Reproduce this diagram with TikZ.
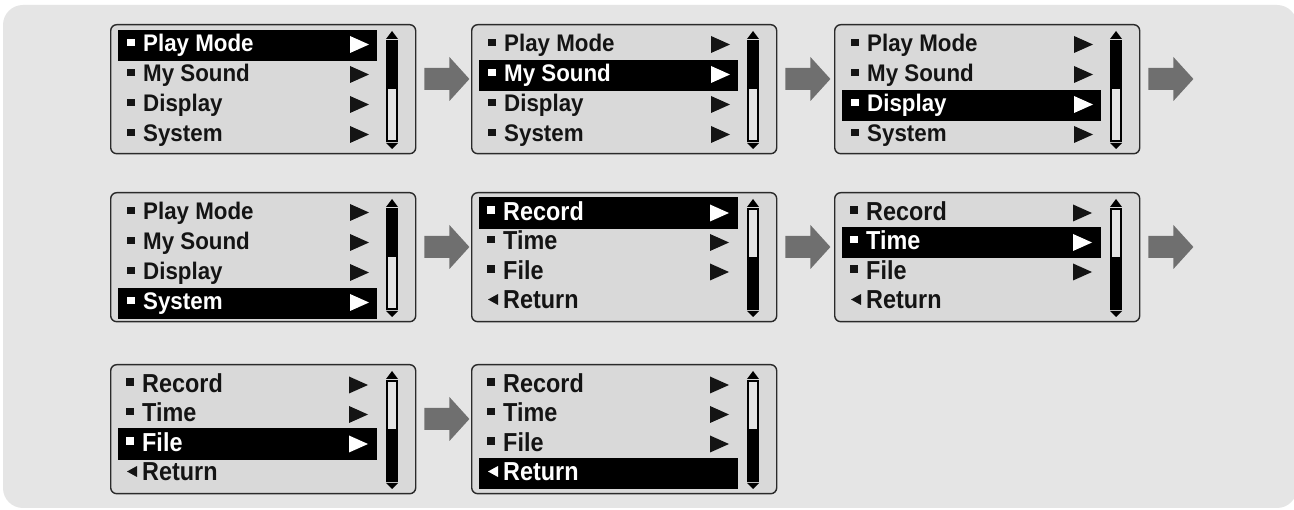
\documentclass[tikz,border=0pt]{standalone}
\usepackage{fontspec}
\setmainfont{Liberation Sans}
\usepackage{graphicx}
\usetikzlibrary{calc}
\definecolor{bgcol}{HTML}{E5E5E5}
\definecolor{scrfill}{HTML}{D9D9D9}
\definecolor{scrollbg}{HTML}{E4E4E4}
\definecolor{arrcol}{HTML}{6F6F6F}
\definecolor{framecol}{HTML}{2A2A2A}
\definecolor{itemcol}{HTML}{141414}
\tikzset{
  screen/.style={draw=framecol, line width=1.4pt, fill=scrfill, rounded corners=6pt,
    minimum width=305pt, minimum height=129pt, inner sep=0pt, anchor=north west},
  mtext/.style={anchor=base west, inner sep=0pt, font=\fontsize{24}{24}\selectfont\bfseries},
  stext/.style={anchor=base west, inner sep=0pt, font=\fontsize{26}{26}\selectfont\bfseries},
  blockarrow/.style={fill=arrcol},
  hlbar/.style={fill=black},
  sbframe/.style={draw=black, line width=1.2pt},
}
\newcommand\myscrollbar[3]{%
  \fill (#1+276,#2+15) -- (#1+282,#2+7) -- (#1+288,#2+15) -- cycle;
  \fill[scrollbg] (#1+277,#2+17) rectangle (#1+287,#2+117);
  \ifnum#3=0 \fill (#1+277,#2+17) rectangle (#1+287,#2+65);
  \else \fill (#1+277,#2+65) rectangle (#1+287,#2+117);\fi
  \draw[sbframe] (#1+277,#2+17) rectangle (#1+287,#2+117);
  \fill (#1+276,#2+119) -- (#1+282,#2+125) -- (#1+288,#2+119) -- cycle;
}
\newcommand\mainscreen[4]{%
  \node[screen] (#1) at (#2,#3) {};
  \foreach \t [count=\i from 0] in {Play Mode,My Sound,Display,System}{
    \pgfmathsetmacro\bl{#3+28+30*\i}
    \ifnum\i=#4\relax
      \fill[hlbar] (#2+8,\bl-22) rectangle (#2+267,\bl+9);
      \def\itc{white}%
    \else\def\itc{itemcol}\fi
    \fill[\itc] (#2+17,\bl-5.5) rectangle (#2+24.5,\bl-13);
    \node[mtext, text=\itc] (#1t\i) at (#2+33,\bl) {\scalebox{0.93}[1]{\t}};
    \fill[\itc] (#2+240,\bl-16) -- (#2+259,\bl-7.5) -- (#2+240,\bl+1) -- cycle;
  }
  \myscrollbar{#2}{#3}{0}
}
\newcommand\subscreen[4]{%
  \node[screen] (#1) at (#2,#3) {};
  \foreach \t [count=\i from 0] in {Record,Time,File,Return}{
    \pgfmathsetmacro\bl{#3+28.5+29.5*\i}
    \ifnum\i=#4\relax
      \fill[hlbar] (#2+8,\bl-23) rectangle (#2+267,\bl+8.5);
      \def\itc{white}%
    \else\def\itc{itemcol}\fi
    \ifnum\i<3
      \fill[\itc] (#2+16,\bl-6.5) rectangle (#2+23.5,\bl-14);
      \fill[\itc] (#2+239,\bl-16) -- (#2+258,\bl-7.5) -- (#2+239,\bl+1) -- cycle;
    \else
      \fill[\itc] (#2+17,\bl-9.5) -- (#2+27,\bl-15) -- (#2+27,\bl-4) -- cycle;
    \fi
    \node[stext, text=\itc] (#1t\i) at (#2+32,\bl) {\scalebox{0.9}[1]{\t}};
  }
  \myscrollbar{#2}{#3}{1}
}
\newcommand\blockarr[1]{%
  \fill[blockarrow] ($(#1)+(0,-11)$) -- ++(25,0) -- ++(0,-11) -- ++(20,22)
    -- ++(-20,22) -- ++(0,-11) -- ++(-25,0) -- cycle;
}
\begin{document}
\begin{tikzpicture}[x=1pt,y=-1pt]
  \useasboundingbox (0,0) rectangle (1294,510);
  \fill[white] (0,0) rectangle (1294,510);
  \fill[bgcol, rounded corners=20pt] (3,5) rectangle (1297,508);
  \mainscreen{s1}{110}{24}{0}
  \mainscreen{s2}{471}{24}{1}
  \mainscreen{s3}{834}{24}{2}
  \mainscreen{s4}{110}{192}{3}
  \subscreen{s5}{471}{192}{0}
  \subscreen{s6}{834}{192}{1}
  \subscreen{s7}{110}{364}{2}
  \subscreen{s8}{471}{364}{3}
  \foreach \s/\a in {s1/a1,s2/a2,s3/a3,s4/a4,s5/a5,s6/a6,s7/a7}{
    \coordinate (\a) at ($(\s.north east)+(8,55)$);
    \blockarr{\a}
  }
\end{tikzpicture}
\end{document}
